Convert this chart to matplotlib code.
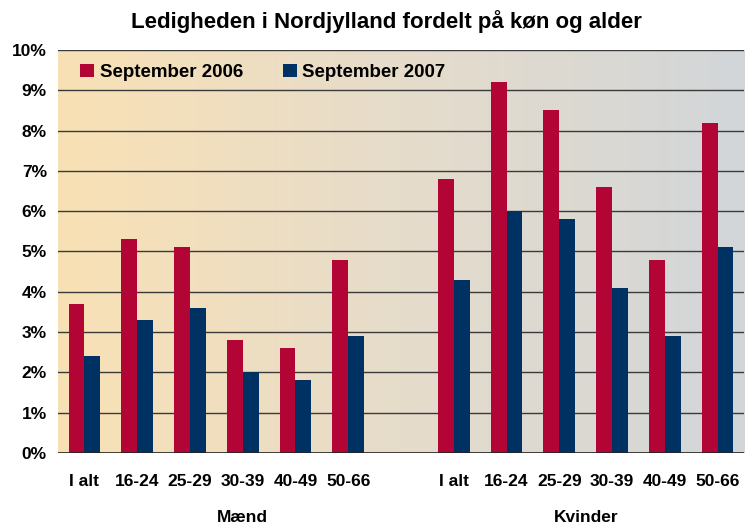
import numpy as np
import matplotlib
matplotlib.use("Agg")
import matplotlib.pyplot as plt
from matplotlib.colors import LinearSegmentedColormap

plt.rcParams['font.family'] = ['Liberation Sans', 'DejaVu Sans']
plt.rcParams['font.weight'] = 'bold'

# data
aldre = ['I alt', '16-24', '25-29', '30-39', '40-49', '50-66']
maend_2006 = [3.7, 5.3, 5.1, 2.8, 2.6, 4.8]
maend_2007 = [2.4, 3.3, 3.6, 2.0, 1.8, 2.9]
kvinder_2006 = [6.8, 9.2, 8.5, 6.6, 4.8, 8.2]
kvinder_2007 = [4.3, 6.0, 5.8, 4.1, 2.9, 5.1]
serier = ['September 2006', 'September 2007']
groups = ['Mænd', 'Kvinder']

rod = '#B20535'
bla = '#003163'

fig = plt.figure(figsize=(7.54, 5.24), dpi=100)
ax = fig.add_axes([58 / 754, 1 - 453 / 524, 686 / 754, 403 / 524])

# 13 slots, slot 6 is empty
pos = np.concatenate([np.arange(6), np.arange(7, 13)]) + 0.5
v06 = maend_2006 + kvinder_2006
v07 = maend_2007 + kvinder_2007
w = 0.3
ax.set_xlim(0, 13)
ax.set_ylim(0, 10)

# gradient background
cmap = LinearSegmentedColormap.from_list('bg', ['#F9E1B5', '#E6DCCB', '#D2D6D9'])
ax.imshow(np.linspace(0, 1, 256).reshape(1, -1), cmap=cmap, aspect='auto',
          extent=[0, 13, 0, 10], zorder=0)

for y in range(1, 11):
    ax.axhline(y, color='#3a3a3a', lw=1.0, zorder=1)
ax.axhline(0, color='#222222', lw=1.2, zorder=3)

ax.bar(pos - w / 2, v06, width=w, color=rod, label=serier[0], zorder=2)
ax.bar(pos + w / 2, v07, width=w, color=bla, label=serier[1], zorder=2)

for s in ax.spines.values():
    s.set_visible(False)

ax.set_yticks(range(0, 11))
ax.set_yticklabels([f'{i}%' for i in range(0, 11)], fontsize=12.5, fontweight='bold')
ax.set_xticks(pos)
ax.set_xticklabels(aldre + aldre, fontsize=12.5, fontweight='bold')
ax.tick_params(axis='both', length=0)
ax.tick_params(axis='x', pad=15)
ax.tick_params(axis='y', pad=8)

ax.text(3.5, -1.6, groups[0], ha='center', va='center', fontsize=12.5, fontweight='bold')
ax.text(10.0, -1.6, groups[1], ha='center', va='center', fontsize=12.5, fontweight='bold')

ax.legend(loc='upper left', bbox_to_anchor=(0.008, 1.008), ncol=2, frameon=False,
          prop={'weight': 'bold', 'size': 13.5}, handlelength=0.75,
          handleheight=0.75, handletextpad=0.3, columnspacing=2.1)

fig.suptitle('Ledigheden i Nordjylland fordelt på køn og alder', x=0.513, y=0.98,
             fontsize=16, fontweight='bold')

fig.savefig('out.png', dpi=100)
